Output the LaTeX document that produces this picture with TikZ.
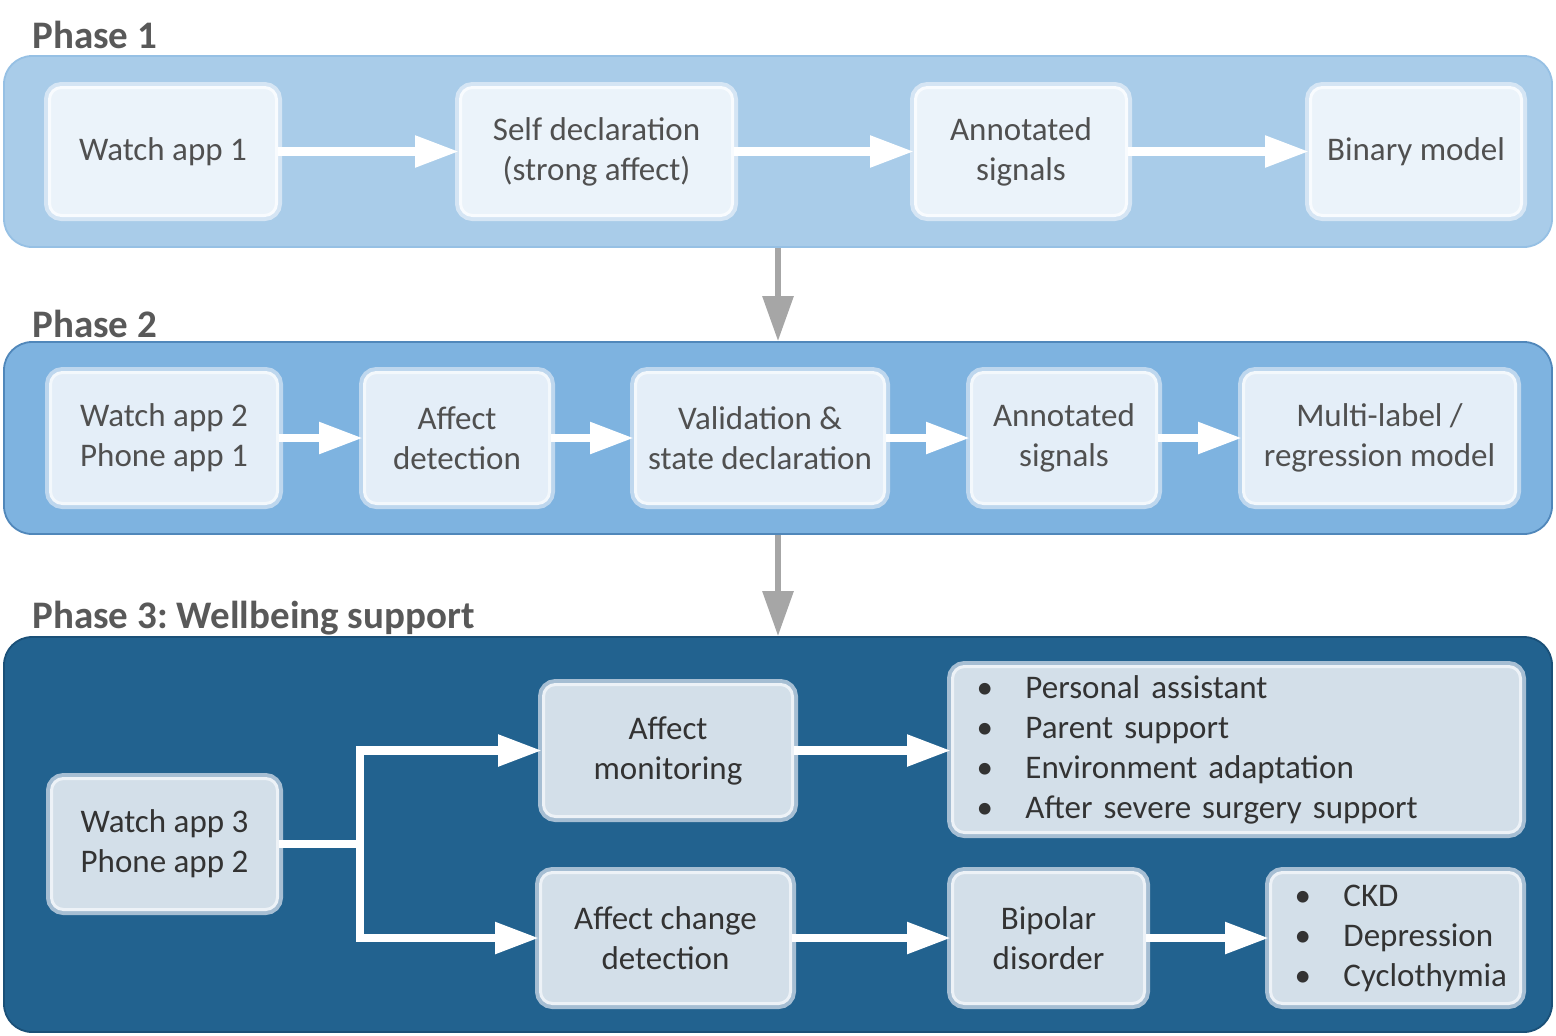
\documentclass[tikz,border=0pt]{standalone}
\usepackage{fontspec}
\setmainfont{Carlito}
\frenchspacing
\usetikzlibrary{arrows.meta}
\definecolor{p1fill}{RGB}{169,204,233}
\definecolor{p1border}{RGB}{150,192,228}
\definecolor{p2fill}{RGB}{126,179,224}
\definecolor{p2border}{RGB}{80,135,186}
\definecolor{p3fill}{RGB}{34,98,143}
\definecolor{p3border}{RGB}{26,80,120}
\definecolor{b1fill}{RGB}{235,243,250}
\definecolor{b1rim}{RGB}{213,229,244}
\definecolor{b1line}{RGB}{248,251,254}
\definecolor{b2fill}{RGB}{228,238,248}
\definecolor{b2rim}{RGB}{190,215,238}
\definecolor{b2line}{RGB}{243,248,252}
\definecolor{b3fill}{RGB}{211,223,233}
\definecolor{b3rim}{RGB}{166,190,211}
\definecolor{b3line}{RGB}{237,242,247}
\definecolor{headtext}{RGB}{89,89,89}
\definecolor{lighttext}{RGB}{80,80,80}
\definecolor{darktext}{RGB}{51,51,51}
\definecolor{greyarrow}{RGB}{166,166,166}
\newcommand\bodyfont{\fontsize{16.5}{20}\selectfont}
\newcommand\headfont{\fontsize{19.5}{23}\selectfont\bfseries}
\newcommand\bitem[1]{\mbox{\makebox[24.5pt][l]{\textbullet}#1}}
\begin{document}
\begin{tikzpicture}[x=0.5pt,y=-0.5pt,
  container/.style={rounded corners=14pt, line width=0.9pt, inner sep=0pt},
  heading/.style={anchor=base west, inner sep=0pt, font=\headfont, text=headtext},
  box/.style={rounded corners=6pt, line width=1.5pt, align=center, inner sep=0pt, font=\bodyfont},
  box1/.style={box, fill=b1fill, draw=b1line, text=lighttext, preaction={draw=b1rim, line width=5.5pt}},
  box2/.style={box, fill=b2fill, draw=b2line, text=lighttext, preaction={draw=b2rim, line width=5.5pt}},
  box3/.style={box, fill=b3fill, draw=b3line, text=darktext, preaction={draw=b3rim, line width=5.5pt}},
  listbox/.style={box3, align=left, inner xsep=12pt, inner ysep=0pt},
  warrow/.style={draw=white, line width=4.2pt, -{Triangle[length=22pt,width=15pt]}},
  wline/.style={draw=white, line width=4.2pt},
  garrow/.style={draw=greyarrow, line width=3pt, -{Triangle[length=22.5pt,width=15pt]}}
]
\useasboundingbox (0,0) rectangle (1556,1035);
% containers
\node[container, fill=p1fill, draw=p1border, minimum width=774pt, minimum height=95.5pt] (p1) at (778,151.5) {};
\node[container, fill=p2fill, draw=p2border, minimum width=774pt, minimum height=96pt] (p2) at (778,438) {};
\node[container, fill=p3fill, draw=p3border, minimum width=774pt, minimum height=197.5pt] (p3) at (778,834.5) {};
% headings
\node[heading] (h1) at (32,48) {Phase 1};
\node[heading] (h2) at (32,337) {Phase 2};
\node[heading] (h3) at (32,628) {Phase 3: Wellbeing support};
% phase 1
\node[box1, minimum width=113.5pt, minimum height=64pt] (w1) at (163,151.5) {Watch app 1};
\node[box1, minimum width=136pt, minimum height=64pt] (sd) at (596.5,151.5) {Self declaration\\(strong affect)};
\node[box1, minimum width=105.5pt, minimum height=64pt] (as1) at (1021,151.5) {Annotated\\signals};
\node[box1, minimum width=105.5pt, minimum height=64pt] (bm) at (1416,151.5) {Binary model};
\draw[warrow] (w1) -- (sd);
\draw[warrow] (sd) -- (as1);
\draw[warrow] (as1) -- (bm);
% phase 2
\node[box2, minimum width=113.5pt, minimum height=65.5pt] (w2) at (164,438) {Watch app 2\\Phone app 1};
\node[box2, minimum width=92.5pt, minimum height=65.5pt] (ad) at (457,438) {Affect\\detection};
\node[box2, minimum width=124.5pt, minimum height=65.5pt] (vs) at (760,438) {Validation \&\\state declaration};
\node[box2, minimum width=92.5pt, minimum height=65.5pt] (as2) at (1064,438) {Annotated\\signals};
\node[box2, minimum width=136pt, minimum height=65.5pt] (ml) at (1379.5,438) {Multi-label /\\regression model};
\draw[warrow] (w2) -- (ad);
\draw[warrow] (ad) -- (vs);
\draw[warrow] (vs) -- (as2);
\draw[warrow] (as2) -- (ml);
% phase arrows
\draw[garrow] (p1.south) -- (p2.north);
\draw[garrow] (p2.south) -- (p3.north);
% phase 3
\node[box3, minimum width=113pt, minimum height=65.5pt] (w3) at (164.5,844) {Watch app 3\\Phone app 2};
\node[box3, minimum width=124.5pt, minimum height=66pt] (am) at (668,750.5) {Affect\\monitoring};
\node[listbox, text width=260pt, minimum height=83pt] (l1) at (1236.5,749.5) {\bitem{Personal assistant}\\\bitem{Parent support}\\\bitem{Environment adaptation}\\\bitem{After severe surgery support}};
\node[box3, minimum width=125pt, minimum height=65.5pt] (acd) at (665.5,938) {Affect change\\detection};
\node[box3, minimum width=96pt, minimum height=65.5pt] (bd) at (1048.5,938) {Bipolar\\disorder};
\node[listbox, text width=101pt, minimum height=65.5pt] (l2) at (1395.5,938) {\bitem{CKD}\\\bitem{Depression}\\\bitem{Cyclothymia}};
\coordinate (split) at (360,844);
\draw[wline] (w3.east) -- (split);
\draw[warrow] (split) |- (am.west);
\draw[warrow] (split) |- (acd.west);
\draw[warrow] (am) -- (l1.west |- am);
\draw[warrow] (acd) -- (bd);
\draw[warrow] (bd) -- (l2);
\end{tikzpicture}
\end{document}
